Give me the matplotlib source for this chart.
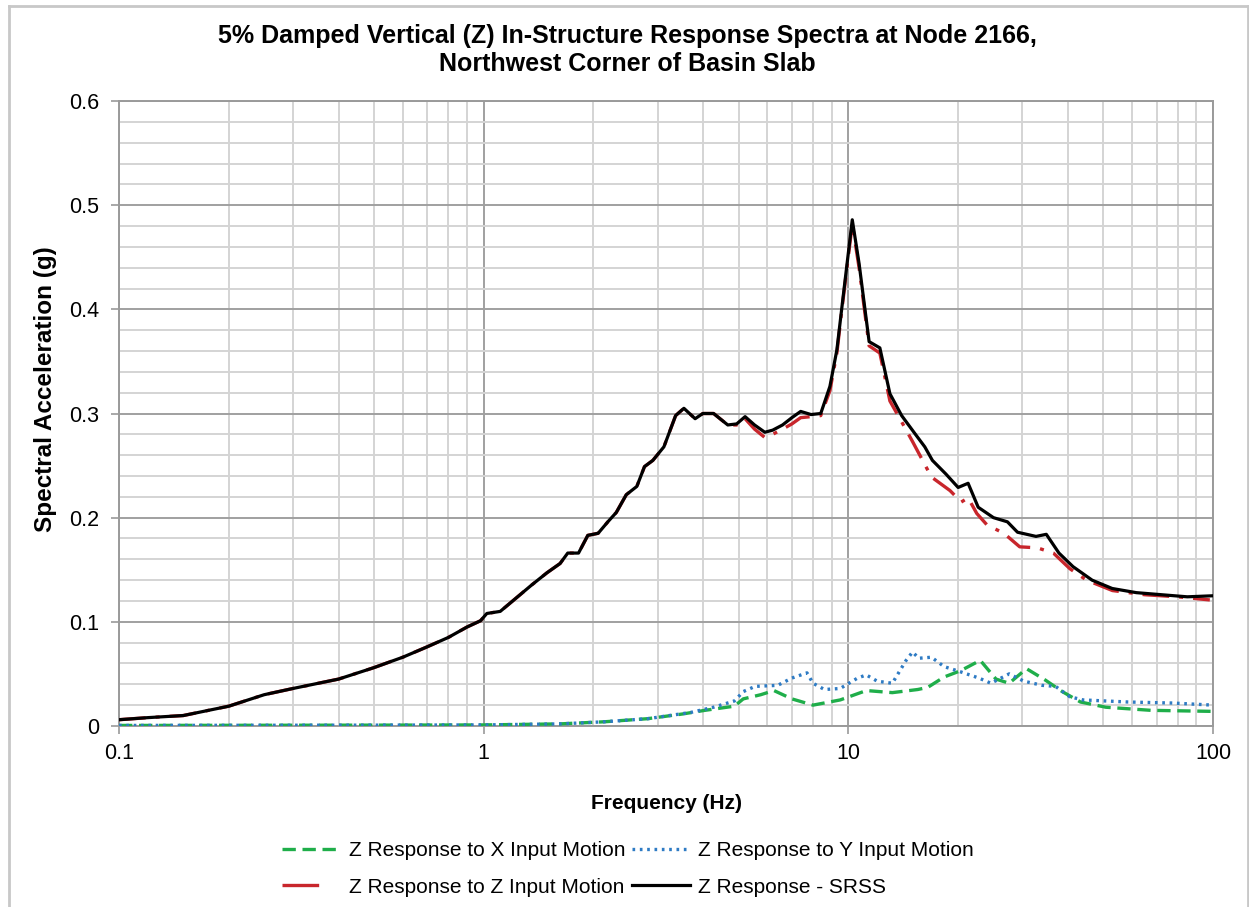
import matplotlib
matplotlib.use('Agg')
import matplotlib.pyplot as plt
from matplotlib.ticker import MultipleLocator, LogLocator, FuncFormatter, NullFormatter
from matplotlib.lines import Line2D

plt.rcParams['font.family'] = ['Liberation Sans', 'DejaVu Sans']

# Z response - SRSS (black)
freq_srss = [0.1, 0.12, 0.15, 0.2, 0.25, 0.3, 0.4, 0.5, 0.6, 0.7, 0.8, 0.9, 0.98, 1.02,
             1.11, 1.21, 1.35, 1.49, 1.62, 1.70, 1.82, 1.93, 2.06, 2.19, 2.31, 2.46, 2.63,
             2.76, 2.91, 3.12, 3.36, 3.54, 3.8, 3.99, 4.27, 4.67, 4.94, 5.21, 5.53, 5.9,
             6.2, 6.6, 7.0, 7.4, 7.9, 8.4, 8.9, 9.3, 9.6, 10.25, 10.7, 11.4, 12.2, 13.0,
             14.0, 15.2, 16.2, 17.0, 18.5, 20.0, 21.3, 22.7, 25.0, 27.3, 29.1, 32.7, 34.9,
             37.8, 41.3, 46.6, 52.9, 61.6, 72.3, 85.0, 100.0]
sa_srss = [0.006, 0.008, 0.010, 0.019, 0.030, 0.036, 0.045, 0.056, 0.066, 0.076, 0.085,
           0.095, 0.101, 0.108, 0.110, 0.121, 0.135, 0.147, 0.156, 0.166, 0.166, 0.183,
           0.185, 0.196, 0.205, 0.222, 0.230, 0.249, 0.255, 0.268, 0.298, 0.305, 0.295,
           0.300, 0.300, 0.289, 0.290, 0.297, 0.289, 0.282, 0.284, 0.289, 0.296, 0.302,
           0.299, 0.300, 0.326, 0.361, 0.402, 0.486, 0.444, 0.369, 0.363, 0.319, 0.298,
           0.281, 0.268, 0.255, 0.242, 0.229, 0.233, 0.210, 0.200, 0.196, 0.186, 0.182,
           0.184, 0.166, 0.153, 0.140, 0.132, 0.128, 0.126, 0.124, 0.125]

# Z response to Z input (red)
freq_z = [0.1, 0.12, 0.15, 0.2, 0.25, 0.3, 0.4, 0.5, 0.6, 0.7, 0.8, 0.9, 0.98, 1.02,
          1.11, 1.21, 1.35, 1.49, 1.62, 1.70, 1.82, 1.93, 2.06, 2.19, 2.31, 2.46, 2.63,
          2.76, 2.91, 3.12, 3.36, 3.54, 3.8, 3.99, 4.27, 4.67, 4.94, 5.21, 5.53, 5.9,
          6.2, 6.6, 7.0, 7.4, 7.9, 8.4, 8.9, 9.3, 9.6, 10.25, 10.7, 11.4, 12.2, 13.0,
          14.0, 15.0, 16.9, 19.0, 20.4, 21.3, 22.5, 24.0, 26.7, 29.5, 33.0, 36.5, 40.5,
          45.0, 53.0, 65.0, 80.0, 98.0]
sa_z = [0.006, 0.008, 0.010, 0.019, 0.030, 0.036, 0.045, 0.056, 0.066, 0.076, 0.085,
        0.095, 0.101, 0.108, 0.110, 0.121, 0.135, 0.147, 0.156, 0.166, 0.166, 0.183,
        0.185, 0.196, 0.205, 0.222, 0.230, 0.249, 0.255, 0.268, 0.298, 0.305, 0.295,
        0.300, 0.300, 0.289, 0.289, 0.295, 0.285, 0.277, 0.280, 0.285, 0.290, 0.296,
        0.297, 0.298, 0.322, 0.358, 0.400, 0.482, 0.440, 0.365, 0.358, 0.312, 0.292,
        0.273, 0.239, 0.226, 0.215, 0.219, 0.204, 0.193, 0.185, 0.172, 0.171, 0.166,
        0.151, 0.140, 0.130, 0.126, 0.124, 0.121]

# Z response to X input (green)
freq_x = [0.1, 0.5, 1.0, 1.62, 2.14, 2.82, 3.51, 4.04, 4.87, 5.15, 5.75, 6.25, 7.0, 8.0,
          9.5, 11.2, 13.2, 15.5, 16.5, 18.3, 20.3, 23.0, 25.4, 27.6, 30.8, 34.7, 38.6,
          43.3, 50.8, 67.6, 100.0]
sa_x = [0.0005, 0.0008, 0.001, 0.002, 0.004, 0.007, 0.0115, 0.015, 0.019, 0.026, 0.030,
        0.034, 0.026, 0.020, 0.025, 0.034, 0.032, 0.035, 0.037, 0.047, 0.053, 0.063,
        0.045, 0.041, 0.055, 0.044, 0.033, 0.023, 0.018, 0.015, 0.014]

# Z response to Y input (blue)
freq_y = [0.1, 0.5, 1.0, 1.62, 2.14, 2.82, 3.7, 4.27, 4.87, 5.15, 5.55, 6.4, 7.0, 7.7,
          8.0, 8.6, 9.5, 10.6, 11.2, 12.0, 13.2, 14.4, 15.0, 15.6, 16.9, 18.3, 20.3,
          22.8, 24.6, 27.6, 30.3, 34.0, 37.0, 40.5, 44.0, 58.5, 77.6, 100.0]
sa_y = [0.0005, 0.0008, 0.001, 0.002, 0.004, 0.007, 0.013, 0.018, 0.024, 0.033, 0.038,
        0.039, 0.046, 0.051, 0.041, 0.035, 0.036, 0.046, 0.049, 0.043, 0.041, 0.063,
        0.071, 0.065, 0.066, 0.057, 0.052, 0.046, 0.041, 0.050, 0.043, 0.039, 0.038,
        0.028, 0.025, 0.023, 0.022, 0.020]

labels = ['Z Response to X Input Motion', 'Z Response to Y Input Motion',
          'Z Response to Z Input Motion', 'Z Response - SRSS']
title = ('5% Damped Vertical (Z) In-Structure Response Spectra at Node 2166,\n'
         'Northwest Corner of Basin Slab')

green_ls = (0, (4, 2))
blue_ls = (0, (0.8, 1.4))
red_ls = (0, (8, 3, 1.2, 3))

fig = plt.figure(figsize=(12.49, 9.07), dpi=100)
ax = fig.add_axes([0.0953, 0.1996, 0.8759, 0.6890])

ax.plot(freq_x, sa_x, color='#1fae4a', lw=2.4, linestyle=green_ls, zorder=3)
ax.plot(freq_y, sa_y, color='#2e7bc4', lw=2.4, linestyle=blue_ls, zorder=3)
ax.plot(freq_z, sa_z, color='#c8262c', lw=2.4, linestyle=red_ls, zorder=4)
ax.plot(freq_srss, sa_srss, color='#000000', lw=2.3, zorder=5)

ax.set_xscale('log')
ax.set_xlim(0.1, 100)
ax.set_ylim(0, 0.6)
ax.xaxis.set_major_locator(LogLocator(base=10))
ax.xaxis.set_minor_locator(LogLocator(base=10, subs=range(2, 10)))
ax.xaxis.set_major_formatter(FuncFormatter(lambda v, p: '%g' % v))
ax.xaxis.set_minor_formatter(NullFormatter())
ax.yaxis.set_major_locator(MultipleLocator(0.1))
ax.yaxis.set_minor_locator(MultipleLocator(0.02))
ax.yaxis.set_major_formatter(FuncFormatter(lambda v, p: '%g' % round(v, 2)))

ax.grid(which='major', color='#a0a0a0', lw=1.4)
ax.grid(which='minor', color='#d4d4d4', lw=1.4)
ax.set_axisbelow(True)
for s in ax.spines.values():
    s.set_color('#9a9a9a')
    s.set_linewidth(1.4)
ax.tick_params(which='major', length=6, width=1.2, color='#9a9a9a', labelsize=15.5)
ax.tick_params(axis='y', pad=8)
ax.tick_params(axis='x', pad=6)
ax.tick_params(which='minor', length=0)

ax.set_xlabel('Frequency (Hz)', fontsize=15, fontweight='bold', labelpad=22)
ax.set_ylabel('Spectral Acceleration (g)', fontsize=17.5, fontweight='bold')
ax.yaxis.set_label_coords(-0.057, 0.539)
fig.text(0.502, 0.945, title, ha='center', va='center', fontsize=18, fontweight='bold',
         linespacing=1.25)

handles = [
    Line2D([], [], color='#1fae4a', lw=2.4, linestyle=green_ls),
    Line2D([], [], color='#c8262c', lw=2.4, linestyle=(0, (11, 20))),
    Line2D([], [], color='#2e7bc4', lw=2.4, linestyle=blue_ls),
    Line2D([], [], color='#000000', lw=2.3),
]
order = [labels[0], labels[2], labels[1], labels[3]]
fig.legend(handles, order, loc='center', bbox_to_anchor=(0.503, 0.042), ncol=2,
           frameon=False, fontsize=15, handlelength=2.8, handletextpad=0.4,
           columnspacing=0.3, labelspacing=0.85)

# thin frame around the chart area
border = dict(color='#c8c8c8', lw=2, transform=fig.transFigure, clip_on=False)
fig.add_artist(Line2D([0.007, 0.999], [0.993, 0.993], **border))
fig.add_artist(Line2D([0.007, 0.007], [0.0, 0.993], **border))
fig.add_artist(Line2D([0.999, 0.999], [0.0, 0.993], **border))

fig.savefig('out.png', dpi=100)
